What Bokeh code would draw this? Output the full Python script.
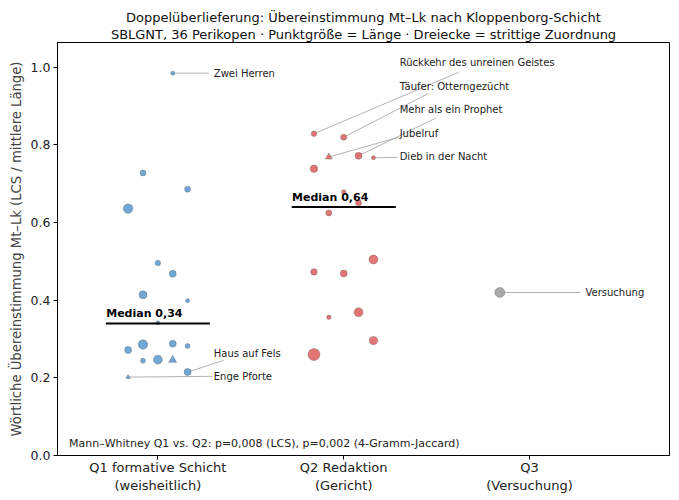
import numpy as np
from bokeh.plotting import figure
from bokeh.models import ColumnDataSource, FixedTicker, PrintfTickFormatter, Title, Label
from bokeh.core.properties import value
from bokeh.embed import file_html
from bokeh.resources import INLINE

# ---------------- data ----------------
categories = ["Q1 formative Schicht\n(weisheitlich)", "Q2 Redaktion\n(Gericht)", "Q3\n(Versuchung)"]

q1_lcs = [0.985, 0.728, 0.686, 0.636, 0.496, 0.468, 0.414, 0.399, 0.342,
          0.272, 0.286, 0.288, 0.282, 0.244, 0.247, 0.246, 0.215, 0.202]
q1_jitter = [0.08, -0.08, 0.16, -0.16, 0.0, 0.08, -0.08, 0.16, 0.0,
             -0.16, -0.08, 0.08, 0.16, -0.08, 0.0, 0.08, 0.16, -0.16]
q1_length = [24, 54, 54, 134, 45, 73, 95, 24, 24, 73, 134, 73, 37, 37, 120, 73, 73, 24]
q1_disputed = [0, 0, 0, 0, 0, 0, 0, 0, 0, 0, 0, 0, 0, 0, 0, 1, 0, 1]
q1_names = ["Zwei Herren", "", "", "", "", "", "", "", "", "", "", "", "", "", "", "",
            "Haus auf Fels", "Enge Pforte"]

q2_lcs = [0.829, 0.820, 0.769, 0.772, 0.767, 0.739, 0.679, 0.651, 0.625,
          0.505, 0.473, 0.469, 0.356, 0.369, 0.296, 0.260]
q2_jitter = [-0.16, 0.0, -0.08, 0.08, 0.16, -0.16, 0.0, 0.08, -0.08,
             0.16, -0.16, 0.0, -0.08, 0.08, 0.16, -0.16]
q2_length = [45, 54, 54, 73, 24, 84, 30, 54, 54, 120, 63, 73, 30, 120, 107, 214]
q2_disputed = [0, 0, 1, 0, 0, 0, 0, 0, 0, 0, 0, 0, 0, 0, 0, 0]
q2_names = ["Rückkehr des unreinen Geistes", "Täufer: Otterngezücht", "Jubelruf",
            "Mehr als ein Prophet", "Dieb in der Nacht", "", "", "", "", "", "", "", "", "", "", ""]

q3_lcs = [0.42]
q3_jitter = [-0.16]
q3_length = [149]
q3_disputed = [0]
q3_names = ["Versuchung"]

medians = [0.34, 0.64]
stats_text = "Mann–Whitney Q1 vs. Q2: p=0,008 (LCS), p=0,002 (4-Gramm-Jaccard)"

# label placement (layout, data units): name -> (text x, text y, line end x, line end y)
label_pos = {
    "Zwei Herren": (0.301, 0.985, 0.274, 0.985),
    "Haus auf Fels": (0.301, 0.263, 0.355, 0.245),
    "Enge Pforte": (0.301, 0.204, 0.296, 0.204),
    "Rückkehr des unreinen Geistes": (1.301, 1.013, 1.618, 0.987),
    "Täufer: Otterngezücht": (1.301, 0.951, 1.457, 0.933),
    "Mehr als ein Prophet": (1.301, 0.892, 1.495, 0.869),
    "Jubelruf": (1.301, 0.830, 1.296, 0.820),
    "Dieb in der Nacht": (1.301, 0.771, 1.290, 0.768),
    "Versuchung": (2.301, 0.420, 2.274, 0.420),
}

colors = ["#5f9ed1", "#e06666", "#a0a0a0"]
FONT = "DejaVu Sans"

p = figure(frame_width=612, frame_height=413, x_range=(-0.54, 2.753), y_range=(0, 1.064),
           output_backend="svg", toolbar_location=None,
           min_border_left=57, min_border_right=2, min_border_top=42, min_border_bottom=0)

p.add_layout(Title(text="SBLGNT, 36 Perikopen · Punktgröße = Länge · Dreiecke = strittige Zuordnung",
                   align="center", text_font_size="13px", text_font_style="normal",
                   text_font=FONT, standoff=1, text_color="#111111"), "above")
p.add_layout(Title(text="Doppelüberlieferung: Übereinstimmung Mt–Lk nach Kloppenborg-Schicht",
                   align="center", text_font_size="13px", text_font_style="normal",
                   text_font=FONT, standoff=0, text_color="#111111"), "above")

p.xgrid.visible = False
p.ygrid.visible = False
p.outline_line_color = "black"
p.outline_line_width = 1
p.outline_line_alpha = 1

groups = [
    (q1_lcs, q1_jitter, q1_length, q1_disputed, q1_names),
    (q2_lcs, q2_jitter, q2_length, q2_disputed, q2_names),
    (q3_lcs, q3_jitter, q3_length, q3_disputed, q3_names),
]

# leader lines first
sx0, sy0, sx1, sy1 = [], [], [], []
tx, ty, tt = [], [], []
for gi, (ys, jit, lens, disp, names) in enumerate(groups):
    for yv, j, nm in zip(ys, jit, names):
        if nm:
            lx, ly, ex, ey = label_pos[nm]
            sx0.append(gi + j); sy0.append(yv); sx1.append(ex); sy1.append(ey)
            tx.append(lx); ty.append(ly); tt.append(nm)
p.segment(x0=sx0, y0=sy0, x1=sx1, y1=sy1, line_color="#aaaaaa", line_width=0.9)

for gi, (ys, jit, lens, disp, names) in enumerate(groups):
    xs = [gi + j for j in jit]
    sizes = [float(np.sqrt(L / 1.5)) for L in lens]
    markers = ["triangle" if d else "circle" for d in disp]
    sizes = [s * 1.15 if d else s for s, d in zip(sizes, disp)]
    src = ColumnDataSource(dict(x=xs, y=ys, size=sizes, marker=markers))
    p.scatter("x", "y", size="size", marker="marker", source=src,
              fill_color=colors[gi], fill_alpha=0.9, line_color="#555555",
              line_width=0.5, line_alpha=0.7)

p.text(x=tx, y=ty, text=tt, text_font=value(FONT), text_font_size="10px",
       text_baseline="middle", text_align="left", text_color="#222222")

# medians
for gi, m in enumerate(medians):
    p.segment(x0=[gi - 0.28], y0=[m], x1=[gi + 0.28], y1=[m], line_color="black", line_width=2)
    p.text(x=[gi - 0.278], y=[m + 0.008], text=["Median " + f"{m:.2f}".replace(".", ",")],
           text_font=value(FONT), text_font_size="11px", text_font_style="bold",
           text_baseline="bottom", text_align="left", text_color="black")

p.add_layout(Label(x=-0.478, y=0.031, text=stats_text, text_font=FONT, text_font_size="11px",
                   text_baseline="middle", text_align="left", text_color="#222222"))

# axes
p.xaxis.ticker = FixedTicker(ticks=[0, 1, 2])
p.xaxis.major_label_overrides = {0: categories[0], 1: categories[1], 2: categories[2]}
p.yaxis.ticker = FixedTicker(ticks=[0, 0.2, 0.4, 0.6, 0.8, 1.0])
p.yaxis.formatter = PrintfTickFormatter(format="%.1f")
p.yaxis.axis_label = "Wörtliche Übereinstimmung Mt–Lk (LCS / mittlere Länge)"
for ax in (p.xaxis, p.yaxis):
    ax.axis_line_color = "black"
    ax.major_tick_line_color = "black"
    ax.major_tick_out = 4
    ax.major_tick_in = 0
    ax.minor_tick_line_color = None
    ax.major_label_text_font = FONT
    ax.major_label_text_color = "#222222"
    ax.axis_label_text_font = FONT
    ax.axis_label_text_font_style = "normal"
    ax.axis_label_text_font_size = "13.2px"
p.xaxis.major_label_text_font_size = "13px"
p.yaxis.major_label_text_font_size = "12.5px"
p.xaxis.major_label_standoff = 0
p.yaxis.major_label_standoff = 3
p.yaxis.axis_label_standoff = 4

open("out.html", "w").write(file_html(p, INLINE))
